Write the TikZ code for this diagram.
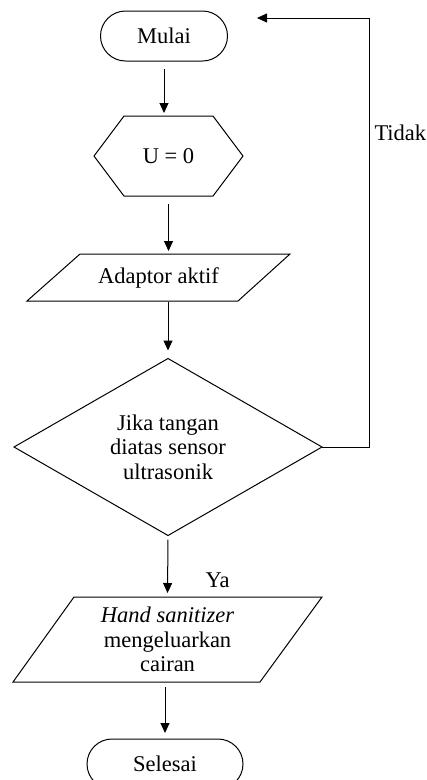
\documentclass[tikz,border=0pt]{standalone}
\usepackage{fontspec}
\setmainfont{Liberation Serif}
\usetikzlibrary{arrows.meta,calc}
\begin{document}
\begin{tikzpicture}[x=1pt,y=-1pt,
  font=\fontsize{22.5}{24.5}\selectfont,
  line width=1pt,
  box/.style={inner sep=0pt,outer sep=0pt,align=center},
  term/.style={box,draw,rounded corners=25pt,minimum height=50pt},
  arr/.style={-{Triangle[length=10pt,width=9pt]}},
  lbl/.style={inner sep=0pt}]
\useasboundingbox (0,0) rectangle (427,780);

\node[term,minimum width=127pt] (mulai) at (164,36) {Mulai};
\node[box,minimum width=149pt,minimum height=80pt] (u0) at (168.5,156) {U = 0};
\node[box,minimum width=263pt,minimum height=47pt] (adaptor) at (158.5,277.5) {Adaptor aktif};
\node[box,minimum width=308pt,minimum height=177pt] (dia) at (168,447) {Jika tangan\\diatas sensor\\ultrasonik};
\node[box,minimum width=309pt,minimum height=85pt] (hand) at (167.5,639.5) {\textit{Hand sanitizer}\\mengeluarkan\\cairan};
\node[term,minimum width=156pt] (selesai) at (165,764) {Selesai};

% shapes
\draw (u0.west) -- ($(u0.north west)+(30,0)$) -- ($(u0.north east)+(-30,0)$) -- (u0.east)
  -- ($(u0.south east)+(-30,0)$) -- ($(u0.south west)+(30,0)$) -- cycle;
\draw ($(adaptor.north west)+(53,0)$) -- (adaptor.north east) -- ($(adaptor.south east)+(-52,0)$)
  -- (adaptor.south west) -- cycle;
\draw (dia.north) -- (dia.east) -- (dia.south) -- (dia.west) -- cycle;
\draw ($(hand.north west)+(61,0)$) -- (hand.north east) -- ($(hand.south east)+(-62,0)$)
  -- (hand.south west) -- cycle;

% connectors
\draw[arr,shorten <=8pt,shorten >=3pt] (mulai.south) -- (mulai.south |- u0.north);
\draw[arr,shorten <=8pt,shorten >=3pt] (u0.south) -- (u0.south |- adaptor.north);
\draw[arr,shorten <=1pt,shorten >=8pt] (dia.north |- adaptor.south) -- (dia.north);
\draw[arr,shorten <=4pt,shorten >=4pt] (dia.south) -- (hand.north);
\draw[arr,shorten <=5pt,shorten >=6pt] (selesai.north |- hand.south) -- (selesai.north);

\coordinate (rt) at (369,447);
\coordinate (tp) at (369,18);
\coordinate (tip) at (257,18);
\draw[arr,line width=0.8pt] (dia.east) -- (rt) -- (tp) -- (tip);

\node[lbl,anchor=west] (tidak) at (374,133) {Tidak};
\node[lbl] (ya) at (217.5,580) {Ya};
\end{tikzpicture}
\end{document}
